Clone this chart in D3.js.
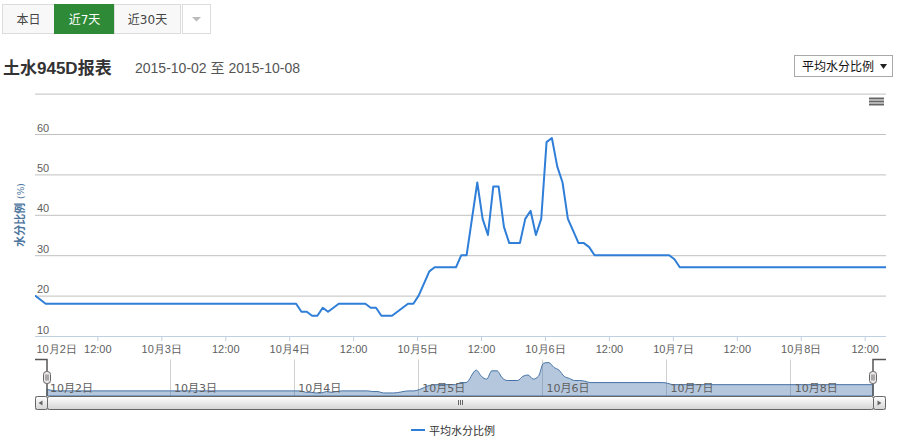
<!DOCTYPE html>
<html><head><meta charset="utf-8">
<script src="https://cdn.jsdelivr.net/npm/d3@7/dist/d3.min.js"></script>
<style>
html,body{margin:0;padding:0;background:#fff;}
svg{display:block;font-family:"DejaVu Sans","Noto Sans CJK SC",sans-serif;}
</style></head>
<body>
<svg id="c" width="900" height="445"></svg>
<script>
// ---- data ----
const times = [
"2015-10-02 00:18","2015-10-02 02:18","2015-10-04 01:18","2015-10-04 02:18","2015-10-04 03:18",
"2015-10-04 04:18","2015-10-04 05:18","2015-10-04 06:18","2015-10-04 07:18","2015-10-04 09:18",
"2015-10-04 14:18","2015-10-04 15:18","2015-10-04 16:18","2015-10-04 17:18","2015-10-04 19:18",
"2015-10-04 22:18","2015-10-04 23:18","2015-10-05 00:18","2015-10-05 02:18","2015-10-05 03:18",
"2015-10-05 07:18","2015-10-05 08:18","2015-10-05 09:18","2015-10-05 11:18","2015-10-05 12:18",
"2015-10-05 13:18","2015-10-05 14:18","2015-10-05 15:18","2015-10-05 16:18","2015-10-05 17:18",
"2015-10-05 19:18","2015-10-05 20:18","2015-10-05 21:18","2015-10-05 22:18","2015-10-05 23:18",
"2015-10-06 00:18","2015-10-06 01:18","2015-10-06 02:18","2015-10-06 03:18","2015-10-06 04:18",
"2015-10-06 05:18","2015-10-06 06:18","2015-10-06 07:18","2015-10-06 08:18","2015-10-06 09:18",
"2015-10-06 23:18","2015-10-07 00:18","2015-10-07 01:18","2015-10-08 16:00"];
const values = [
20,18,18,16,16,
15,15,17,16,18,
18,17,17,15,15,
18,18,20,26,27,
27,30,30,48,39,
35,47,47,37,33,
33,39,41,35,39,
58,59,52,48,39,
36,33,33,32,30,
30,29,27,27];
const seriesName = "平均水分比例";
const xTickTimes = ["2015-10-02 00:00","2015-10-02 12:00","2015-10-03 00:00","2015-10-03 12:00",
"2015-10-04 00:00","2015-10-04 12:00","2015-10-05 00:00","2015-10-05 12:00","2015-10-06 00:00",
"2015-10-06 12:00","2015-10-07 00:00","2015-10-07 12:00","2015-10-08 00:00","2015-10-08 12:00"];
const xTickLabels = ["10月2日","12:00","10月3日","12:00","10月4日","12:00","10月5日","12:00",
"10月6日","12:00","10月7日","12:00","10月8日","12:00"];
const yTicks = [10,20,30,40,50,60,70];
const yTickLabels = ["10","20","30","40","50","60",""];
const navTickTimes = ["2015-10-02 00:00","2015-10-03 00:00","2015-10-04 00:00","2015-10-05 00:00",
"2015-10-06 00:00","2015-10-07 00:00","2015-10-08 00:00"];
const navTickLabels = ["10月2日","10月3日","10月4日","10月5日","10月6日","10月7日","10月8日"];
const buttons = ["本日","近7天","近30天"];

// ---- setup ----
const parse = d3.timeParse("%Y-%m-%d %H:%M");
const data = times.map((t,i)=>({t:parse(t), v:values[i]}));
const svg = d3.select("#c");
const L = 35, R = 886, T = 93.6, B = 336;
const x = d3.scaleTime().domain(d3.extent(data,d=>d.t)).range([L,R]);
const y = d3.scaleLinear().domain([10,70]).range([B,T]);

// ---- top buttons ----
const btnX = [2.5,54.5,114.5], btnW = [52,60,66];
buttons.forEach((b,i)=>{
  const active = i===1;
  svg.append("rect").attr("x",btnX[i]).attr("y",4.5).attr("width",btnW[i]).attr("height",29)
    .attr("fill",active?"#2e8a36":"#f8f8f8").attr("stroke",active?"#2e8a36":"#dcdcdc");
  svg.append("text").attr("x",btnX[i]+btnW[i]/2).attr("y",23.5).attr("text-anchor","middle")
    .attr("font-size",12).attr("fill",active?"#fff":"#444").text(b);
});
svg.append("rect").attr("x",182.5).attr("y",4.5).attr("width",28).attr("height",29)
  .attr("fill","#fff").attr("stroke","#dcdcdc");
svg.append("path").attr("d","M192,17 L201,17 L196.5,21.5 Z").attr("fill","#bbb");

// ---- title ----
svg.append("text").attr("x",3).attr("y",74).attr("font-size",17).attr("font-weight","bold")
  .attr("fill","#333").attr("font-family","'Liberation Sans','Noto Sans CJK SC',sans-serif").text("土水945D报表");
svg.append("text").attr("x",135).attr("y",73).attr("font-size",14).attr("fill","#555")
  .attr("font-family","'Liberation Sans','Noto Sans CJK SC',sans-serif").text("2015-10-02 至 2015-10-08");

// ---- select ----
svg.append("rect").attr("x",794.5).attr("y",55.5).attr("width",98).attr("height",21)
  .attr("fill","#fff").attr("stroke","#a9a9a9");
svg.append("text").attr("x",802).attr("y",71).attr("font-size",12).attr("fill","#111").text(seriesName);
svg.append("path").attr("d","M880,64 L887,64 L883.5,69 Z").attr("fill","#222");

// ---- y grid + labels ----
const yAxis = d3.axisLeft(y).tickValues(yTicks).tickSize(-(R-L)).tickFormat((d,i)=>yTickLabels[i]);
const gy = svg.append("g").attr("transform",`translate(${L},0)`).call(yAxis);
gy.select(".domain").remove();
gy.selectAll(".tick line").attr("stroke","#C0C0C0").attr("stroke-width",1)
  .filter(d=>d===10).remove();
gy.selectAll(".tick text").attr("x",2).attr("dy",null).attr("y",-3).attr("text-anchor","start")
  .attr("fill","#606060").attr("font-size",11).attr("font-family",null);

// ---- y title ----
const yt = svg.append("text").attr("transform","translate(24,215) rotate(-90)")
  .attr("text-anchor","middle").attr("fill","#4d759e").attr("font-size",11).attr("font-weight","bold");
yt.append("tspan").text("水分比例 ");
yt.append("tspan").attr("font-size",9).attr("font-weight","normal").text("(%)");

// ---- x axis ----
const xAxis = d3.axisBottom(x).tickValues(xTickTimes.map(parse)).tickFormat((d,i)=>xTickLabels[i])
  .tickSizeInner(5).tickSizeOuter(0).tickPadding(4);
const gx = svg.append("g").attr("transform",`translate(0,${B})`).call(xAxis);
gx.select(".domain").attr("stroke","#C0D0E0").attr("d",`M${L},0.5H${R}`);
gx.selectAll(".tick line").attr("stroke","#C0D0E0");
gx.selectAll(".tick text").attr("fill","#606060").attr("font-size",11).attr("font-family",null);
gx.selectAll(".tick").filter((d,i)=>i===0).each(function(d){
  const g=d3.select(this); g.select("line").remove();
  g.select("text").attr("text-anchor","start").attr("x",L+1-x(d));
});

// ---- main line ----
svg.append("clipPath").attr("id","clip").append("rect").attr("x",L).attr("y",T-5).attr("width",R-L).attr("height",B-T+5);
svg.append("path").datum(data).attr("clip-path","url(#clip)")
  .attr("fill","none").attr("stroke","#2f7ed8").attr("stroke-width",2).attr("stroke-linejoin","round")
  .attr("d",d3.line().x(d=>x(d.t)).y(d=>y(d.v)));

// ---- menu icon ----
[98.5,101.5,104.5].forEach(yy=>svg.append("line").attr("x1",869).attr("x2",884).attr("y1",yy).attr("y2",yy)
  .attr("stroke","#666").attr("stroke-width",2));

// ---- navigator ----
const NL = 47, NR = 873, NT = 359.5, NB = 396;
const nx = d3.scaleTime().domain(x.domain()).range([NL,NR]);
const ny = d3.scaleLinear().domain([10.6,63.4]).range([NB,NT]);
const gnav = svg.append("g");
navTickTimes.map(parse).forEach((d,i)=>{
  const px = Math.round(nx(d))+0.5;
  if (px > NL+2) gnav.append("line").attr("x1",px).attr("x2",px).attr("y1",NT).attr("y2",NB).attr("stroke","#d0d0d0");
});
gnav.append("path").datum(data).attr("fill","rgba(69,114,167,0.4)").attr("stroke","#4572A7").attr("stroke-width",1)
  .attr("d",d3.area().curve(d3.curveMonotoneX).x(d=>nx(d.t)).y0(NB).y1(d=>ny(d.v)));
navTickTimes.map(parse).forEach((d,i)=>{
  gnav.append("text").attr("x",Math.max(nx(d)+4.5,NL+3)).attr("y",392).attr("font-size",11)
    .attr("fill","#606060").text(navTickLabels[i]);
});

// ---- scrollbar ----
const defs = svg.append("defs");
const g1 = defs.append("linearGradient").attr("id","bar").attr("x1",0).attr("y1",0).attr("x2",0).attr("y2",1);
g1.append("stop").attr("offset",0).attr("stop-color","#fff");
g1.append("stop").attr("offset",1).attr("stop-color","#d4d4d4");
svg.append("rect").attr("x",L+0.5).attr("y",396.5).attr("width",R-L-1).attr("height",13)
  .attr("fill","#f4f4f4").attr("stroke","#ccc");
svg.append("rect").attr("x",NL+0.5).attr("y",396.5).attr("width",NR-NL).attr("height",13).attr("rx",2)
  .attr("fill","url(#bar)").attr("stroke","#666");
[[L+0.5,"M42.5,400.5 L38.5,403 L42.5,405.5 Z"],[NR+0.5,"M877.5,400.5 L881.5,403 L877.5,405.5 Z"]].forEach(([bx,p])=>{
  svg.append("rect").attr("x",bx).attr("y",396.5).attr("width",12).attr("height",13).attr("rx",2)
    .attr("fill","url(#bar)").attr("stroke","#666");
  svg.append("path").attr("d",p).attr("fill","#666");
});
const cx = Math.round((NL+NR)/2);
[-2,0,2].forEach(o=>svg.append("line").attr("x1",cx+o+0.5).attr("x2",cx+o+0.5).attr("y1",400).attr("y2",405)
  .attr("stroke","#666").attr("stroke-width",1));

// ---- navigator outline + handles ----
svg.append("path").attr("fill","none").attr("stroke","#555").attr("stroke-width",1.5)
  .attr("d",`M${L},${NT} H${NL} V${NB} M${NR},${NB} V${NT} H${R}`);
[NL,NR].forEach(hx=>{
  svg.append("rect").attr("x",hx-3.5).attr("y",371.5).attr("width",7).attr("height",12).attr("rx",3)
    .attr("fill","#ebe7e8").attr("stroke","#666");
  [-1,1].forEach(o=>svg.append("line").attr("x1",hx+o).attr("x2",hx+o).attr("y1",374.5).attr("y2",380.5)
    .attr("stroke","#666").attr("stroke-width",1));
});

// ---- legend ----
svg.append("line").attr("x1",411).attr("x2",425).attr("y1",430).attr("y2",430).attr("stroke","#2f7ed8").attr("stroke-width",2);
svg.append("text").attr("x",429).attr("y",434.5).attr("font-size",11).attr("fill","#333").text(seriesName);
</script>
</body></html>
